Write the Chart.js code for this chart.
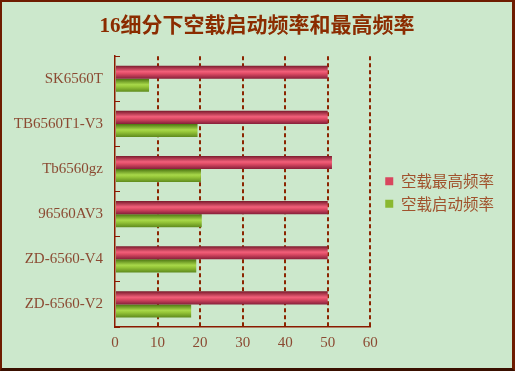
<!DOCTYPE html>
<html>
<head>
<meta charset="utf-8">
<script src="https://cdn.jsdelivr.net/npm/chart.js@4.4.0/dist/chart.umd.min.js"></script>
<style>
    html, body { margin: 0; padding: 0; background: #fff; }
    #wrap {
        width: 515px; height: 371px; box-sizing: border-box;
        border: 2px solid #6e1c00; border-right: 3px solid #6e1c00; border-bottom: 3px solid #3a1000;
        background: #cce8cc;
    }
    canvas { display: block; }
</style>
</head>
<body>
<div id="wrap"><canvas id="freqChart" width="510" height="366"></canvas></div>
<script>
const labels = ["SK6560T", "TB6560T1-V3", "Tb6560gz", "96560AV3", "ZD-6560-V4", "ZD-6560-V2"];
const maxFreq = [50, 50, 51, 50, 50, 50];
const startFreq = [8, 19.4, 20.2, 20.4, 19.1, 17.9];
const xTicks = [0, 10, 20, 30, 40, 50, 60];

const redStops = [[0, "#7a1a2c"], [0.45, "#f2607a"], [0.6, "#e04c66"], [1, "#86203a"]];
const greenStops = [[0, "#4a7410"], [0.45, "#a8d84a"], [0.6, "#98c83a"], [1, "#5e8a1c"]];

const axisColor = "#8b1a00";
const labelColor = "#8b4a32";
const serif = "'Liberation Serif', 'Noto Sans CJK SC', serif";
const rightPad = 19;

// cylinder look on the bars
const barGradient = {
    id: "barGradient",
    beforeDatasetsDraw(chart) {
        const ctx = chart.ctx;
        chart.data.datasets.forEach((ds, i) => {
            chart.getDatasetMeta(i).data.forEach((bar) => {
                const top = bar.y - bar.height / 2;
                const g = ctx.createLinearGradient(0, top, 0, top + bar.height);
                ds.stops.forEach((s) => g.addColorStop(s[0], s[1]));
                bar.options = Object.assign({}, bar.options, { backgroundColor: g });
            });
        });
    },
};

// nudge legend away from the plot, keep title centred on the whole canvas
const layoutTweak = {
    id: "layoutTweak",
    afterLayout(chart) {
        if (chart.legend) {
            chart.legend.left += 8;
            chart.legend.right += 8;
            chart.legend.top += 12;
            chart.legend.bottom += 12;
        }
        if (chart.titleBlock) {
            chart.titleBlock.right += rightPad;
        }
    },
};

const ctx = document.getElementById("freqChart").getContext("2d");
const chart = new Chart(ctx, {
    type: "bar",
    data: {
        labels: labels,
        datasets: [
            {
                label: "空载最高频率",
                data: maxFreq,
                backgroundColor: "#d8465e",
                stops: redStops,
                borderWidth: 0,
                categoryPercentage: 0.58,
                barPercentage: 1.0,
            },
            {
                label: "空载启动频率",
                data: startFreq,
                backgroundColor: "#8ab830",
                stops: greenStops,
                borderWidth: 0,
                categoryPercentage: 0.58,
                barPercentage: 1.0,
            },
        ],
    },
    options: {
        indexAxis: "y",
        responsive: false,
        animation: false,
        layout: {
            padding: { left: 0, right: rightPad, top: 0, bottom: 9 },
        },
        plugins: {
            title: {
                display: true,
                text: "16细分下空载启动频率和最高频率",
                color: "#8b2c00",
                font: { family: serif, size: 21, weight: "bold" },
                padding: { top: 12, bottom: 17 },
            },
            legend: {
                position: "right",
                labels: {
                    boxWidth: 8,
                    boxHeight: 8,
                    padding: 7,
                    color: "#a0522d",
                    font: { family: "'Noto Sans CJK SC', sans-serif", size: 15.5 },
                },
            },
            tooltip: { enabled: false },
        },
        scales: {
            x: {
                min: 0,
                max: 60,
                afterBuildTicks: (scale) => {
                    scale.ticks = xTicks.map((v) => ({ value: v }));
                },
                ticks: {
                    color: labelColor,
                    padding: 7,
                    font: { family: serif, size: 15 },
                },
                grid: {
                    color: (c) => (c.tick && c.tick.value === 0 ? "rgba(0,0,0,0)" : "#8b2500"),
                    lineWidth: 2,
                    drawTicks: false,
                },
                border: { display: true, color: axisColor, width: 1.5, dash: [4, 3] },
            },
            y: {
                afterFit: (scale) => {
                    scale.width = 113;
                },
                ticks: {
                    color: labelColor,
                    padding: 17,
                    font: { family: serif, size: 15 },
                },
                grid: {
                    offset: true,
                    drawOnChartArea: false,
                    drawTicks: true,
                    tickLength: -5,
                    color: axisColor,
                    lineWidth: 1,
                },
                border: { display: true, color: axisColor, width: 1.5 },
            },
        },
    },
    plugins: [barGradient, layoutTweak],
});
</script>
</body>
</html>
